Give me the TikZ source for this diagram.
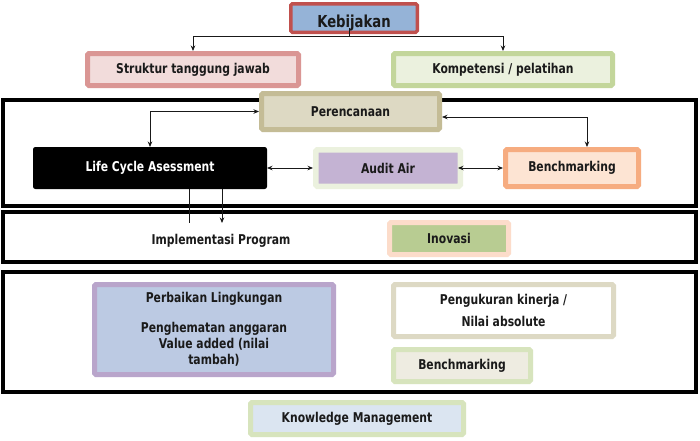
\documentclass[tikz,border=0pt]{standalone}
\usepackage{fontspec}
\setmainfont{DejaVu Sans}[FakeStretch=0.8]
\usetikzlibrary{arrows.meta,calc}
\definecolor{txt}{HTML}{1A1A1A}
\definecolor{kbD}{HTML}{C0504D}\definecolor{kbF}{HTML}{95B3D7}
\definecolor{stD}{HTML}{DA9694}\definecolor{stF}{HTML}{F2DCDB}
\definecolor{kpD}{HTML}{C3D69B}\definecolor{kpF}{HTML}{EBF1DE}
\definecolor{peD}{HTML}{C4BC96}\definecolor{peF}{HTML}{DDD9C3}
\definecolor{auD}{HTML}{EBF1DE}\definecolor{auF}{HTML}{C4B3D3}
\definecolor{bmD}{HTML}{F6AC80}\definecolor{bmF}{HTML}{FDE4D3}
\definecolor{inD}{HTML}{FCDCCA}\definecolor{inF}{HTML}{B8CC92}
\definecolor{pbD}{HTML}{B9A5CB}\definecolor{pbF}{HTML}{BCCAE3}
\definecolor{pgD}{HTML}{DDD9C4}
\definecolor{lgD}{HTML}{D7E4BD}\definecolor{b2F}{HTML}{EEECE1}
\definecolor{kmF}{HTML}{DBE5F1}
\tikzset{
  lbl/.style={text=txt, font=\fontsize{13.5}{16}\selectfont\bfseries, align=center},
  box/.style={draw, line width=5pt, rounded corners=1.5pt, inner sep=0pt, lbl},
  frame/.style={draw=black, line width=4pt, inner sep=0pt},
  arr/.style={-{Stealth[length=5.5pt,width=4.5pt]}, line width=0.8pt, draw=black!90},
  darr/.style={{Stealth[length=5.5pt,width=4.5pt]}-{Stealth[length=5.5pt,width=4.5pt]}, line width=0.8pt, draw=black!90},
  plain/.style={line width=0.8pt, draw=black!90}
}
\begin{document}
\begin{tikzpicture}[x=1pt,y=-1pt]
\useasboundingbox[fill=white] (0,0) rectangle (700,440);
% frames
\node[frame, minimum width=693pt, minimum height=106pt] (f1) at (349.5,153) {};
\node[frame, minimum width=693pt, minimum height=50pt] (f2) at (349.5,237) {};
\node[frame, minimum width=693pt, minimum height=120pt] (f3) at (349.5,332) {};
% top
\node[box, draw=kbD, fill=kbF, line width=3.5pt, minimum width=126.5pt, minimum height=28.5pt] (kb) at (354,18) {};
\node[lbl, font=\fontsize{16.5}{18}\selectfont\bfseries] (kbt) at (354,23) {Kebijakan};
\node[box, draw=stD, fill=stF, minimum width=211pt, minimum height=32pt] (st) at (193,69.5) {Struktur tanggung jawab};
\node[box, draw=kpD, fill=kpF, minimum width=219pt, minimum height=32pt] (kp) at (503,69.5) {Kompetensi / pelatihan};
\coordinate (kj) at (349,28);
\draw[arr] (kj) -- (kj |- 0,36) -| (st.north);
\draw[arr] (kj) -- (kj |- 0,36) -| (kp.north);
% frame 1
\node[box, draw=peD, fill=peF, minimum width=178pt, minimum height=36pt] (pe) at (350.5,111.5) {Perencanaan};
\node[box, draw=black, fill=black, line width=1pt, rounded corners=2pt, text=white,
  minimum width=233pt, minimum height=41pt] (lca) at (150,168) {Life Cycle Asessment};
\node[box, draw=auD, fill=auF, line width=5.5pt, minimum width=144.5pt, minimum height=36.5pt] (au) at (388,168) {Audit Air};
\node[box, draw=bmD, fill=bmF, minimum width=133pt, minimum height=37pt] (bm) at (572,168) {Benchmarking};
\draw[darr] (lca.north) |- (pe.west);
\draw[darr] ([yshift=-5.5pt]pe.east) -| ([xshift=15pt]bm.north);
\draw[darr] (lca.east) -- (au.west);
\draw[darr] ([xshift=-5pt]au.east) -- (bm.west);
% frame 2
\coordinate (l1) at (189,223);
\coordinate (l2) at (222,223);
\draw[plain] (l1 |- lca.south) -- (l1);
\draw[arr] (l2 |- lca.south) -- (l2);
\node[lbl] (ip) at (221,241) {Implementasi Program};
\node[box, draw=inD, fill=inF, minimum width=119pt, minimum height=32pt] (in) at (449,238.5) {Inovasi};
% frame 3
\node[box, draw=pbD, fill=pbF, minimum width=239pt, minimum height=90pt] (pb) at (214,329.5)
  {Perbaikan Lingkungan\\[14pt] Penghematan anggaran\\ Value added (nilai\\ tambah)};
\node[box, draw=pgD, fill=white, minimum width=220pt, minimum height=52pt] (pg) at (503.5,310.5)
  {Pengukuran kinerja /\\[6pt] Nilai absolute};
\node[box, draw=lgD, fill=b2F, minimum width=137pt, minimum height=32pt] (b2) at (462,365.5) {Benchmarking};
\node[box, draw=lgD, fill=kmF, minimum width=213pt, minimum height=32pt] (km) at (357,418.5) {Knowledge Management};
\end{tikzpicture}
\end{document}
